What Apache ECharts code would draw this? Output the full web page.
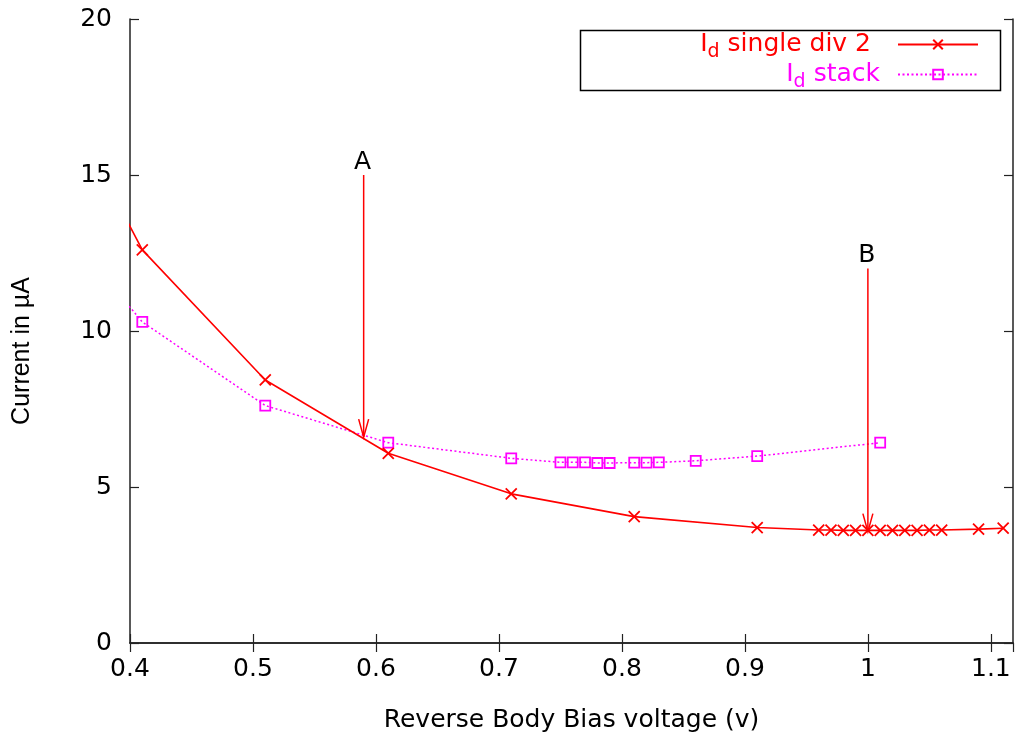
<!DOCTYPE html>
<html>
<head>
<meta charset="utf-8">
<script src="https://cdn.jsdelivr.net/npm/echarts@6/dist/echarts.min.js"></script>
<style>
  html, body { margin: 0; padding: 0; background: #fff; }
  #chart { width: 1015px; height: 736px; }
</style>
</head>
<body>
<div id="chart"></div>
<script>
// Drain current vs. reverse body bias voltage
const singleX = [0.31, 0.41, 0.51, 0.61, 0.71, 0.81, 0.91, 0.96, 0.97, 0.98, 0.99, 1.00, 1.01, 1.02, 1.03, 1.04, 1.05, 1.06, 1.09, 1.11];
const singleY = [20.1, 12.60, 8.43, 6.08, 4.78, 4.05, 3.70, 3.62, 3.62, 3.61, 3.61, 3.61, 3.61, 3.61, 3.61, 3.61, 3.62, 3.62, 3.65, 3.68];

const stackX = [0.31, 0.41, 0.51, 0.61, 0.71, 0.75, 0.76, 0.77, 0.78, 0.79, 0.81, 0.82, 0.83, 0.86, 0.91, 1.01];
const stackY = [15.0, 10.29, 7.61, 6.42, 5.92, 5.79, 5.79, 5.79, 5.77, 5.77, 5.78, 5.78, 5.79, 5.84, 5.99, 6.42];

// Annotation arrows: x position, tail (top) and tip values, label
const arrowX = [0.59, 1.00];
const arrowTop = [15, 12];
const arrowTip = [6.6, 3.57];
const arrowLabel = ['A', 'B'];

const xMin = 0.4, xMax = 1.118, xStep = 0.1;
const yMin = 0, yMax = 20, yStep = 5;

const NAME_SINGLE = 'Id single div 2';
const NAME_STACK = 'Id stack';

const RED = '#ff0000';
const MAGENTA = '#ff00ff';
const HFONT = 'DejaVu Sans';
const VFONT = 'Liberation Sans';

const zip = (xs, ys) => xs.map((x, i) => [x, ys[i]]);

function xTickLabel(v) {
  const k = Math.round(v / xStep);
  if (Math.abs(v - k * xStep) > 1e-6) return '';
  return String(Math.round(v * 10) / 10);
}

const chart = echarts.init(document.getElementById('chart'), null, { renderer: 'canvas' });

const axisLine = { show: true, lineStyle: { color: '#222', width: 1.5 } };
const axisTick = { show: true, inside: true, length: 9, lineStyle: { color: '#222', width: 1.2 } };

function legendFormatter(name) {
  return '{t|I}{s|d}{tr|' + name.slice(2) + '}';
}

// One legend per entry so each sample sits flush against the right side of the key box
function makeLegend(name, color, top, gap) {
  return {
    data: [name],
    right: 36,
    top: top,
    padding: 0,
    orient: 'vertical',
    align: 'right',
    itemWidth: 80,
    itemHeight: 12,
    selectedMode: false,
    formatter: legendFormatter,
    textStyle: {
      color: color,
      fontFamily: HFONT,
      fontSize: 25,
      rich: {
        t: { color: color, fontFamily: HFONT, fontSize: 25, lineHeight: 26 },
        tr: { color: color, fontFamily: HFONT, fontSize: 25, lineHeight: 26, padding: [0, gap, 0, 0] },
        s: { color: color, fontFamily: HFONT, fontSize: 19, lineHeight: 19, padding: [16, 0, 0, 0] }
      }
    }
  };
}

const option = {
  animation: false,
  backgroundColor: '#fff',
  grid: { left: 130, right: 2, top: 19, bottom: 93, containLabel: false, outerBoundsMode: 'none' },
  legend: [
    makeLegend(NAME_SINGLE, RED, 27, 22),
    makeLegend(NAME_STACK, MAGENTA, 57, 13)
  ],
  graphic: [{
    type: 'rect',
    left: 578, top: 28,
    shape: { width: 420, height: 60 },
    style: { fill: 'none', stroke: '#000', lineWidth: 1.5 },
    z: 10
  }],
  xAxis: [{
    type: 'value',
    position: 'bottom',
    min: xMin, max: xMax, interval: xStep,
    name: 'Reverse Body Bias voltage (v)',
    nameLocation: 'middle',
    nameGap: 65,
    nameTextStyle: { fontFamily: HFONT, fontSize: 25, color: '#000' },
    axisLine: axisLine,
    axisTick: axisTick,
    splitLine: { show: false },
    axisLabel: {
      formatter: xTickLabel,
      showMaxLabel: false,
      margin: 14,
      fontFamily: HFONT, fontSize: 25, color: '#000'
    }
  }, {
    type: 'value',
    position: 'top',
    min: xMin, max: xMax, interval: xStep,
    axisLine: axisLine,
    axisTick: axisTick,
    splitLine: { show: false },
    axisLabel: { show: false }
  }],
  yAxis: [{
    type: 'value',
    position: 'left',
    min: yMin, max: yMax, interval: yStep,
    name: 'Current in µA',
    nameLocation: 'middle',
    nameGap: 95,
    nameTextStyle: { fontFamily: VFONT, fontSize: 25, color: '#000', padding: [0, 40, 0, 0] },
    axisLine: axisLine,
    axisTick: axisTick,
    splitLine: { show: false },
    axisLabel: { margin: 18, fontFamily: HFONT, fontSize: 25, color: '#000' }
  }, {
    type: 'value',
    position: 'right',
    min: yMin, max: yMax, interval: yStep,
    axisLine: axisLine,
    axisTick: axisTick,
    splitLine: { show: false },
    axisLabel: { show: false }
  }],
  series: [{
    name: NAME_SINGLE,
    type: 'line',
    data: zip(singleX, singleY),
    clip: true,
    showAllSymbol: true,
    symbol: 'path://M0,0L10,10M0,10L10,0',
    symbolSize: 11,
    itemStyle: { color: RED, borderColor: RED, borderWidth: 1.8 },
    lineStyle: { color: RED, width: 1.6 },
    emphasis: { disabled: true },
    z: 3
  }, {
    name: NAME_STACK,
    type: 'line',
    data: zip(stackX, stackY),
    clip: true,
    showAllSymbol: true,
    symbol: 'rect',
    symbolSize: 10,
    itemStyle: { color: 'rgba(255,255,255,0)', borderColor: MAGENTA, borderWidth: 1.8 },
    lineStyle: { color: MAGENTA, width: 1.5, type: [2, 2.5] },
    emphasis: { disabled: true },
    z: 2
  }, {
    type: 'custom',
    name: 'arrows',
    data: arrowX.map((x, i) => [x, arrowTop[i], arrowTip[i], i]),
    encode: { x: 0, y: [1, 2] },
    clip: false,
    z: 4,
    renderItem: function (params, api) {
      const x = api.value(0);
      const top = api.coord([x, api.value(1)]);
      const tip = api.coord([x, api.value(2)]);
      const headLen = 18, headHalf = 5;
      const stroke = { stroke: RED, lineWidth: 1.5 };
      const label = arrowLabel[api.value(3)];
      return {
        type: 'group',
        children: [
          { type: 'line', shape: { x1: top[0], y1: top[1], x2: tip[0], y2: tip[1] }, style: stroke },
          { type: 'polyline', shape: { points: [[tip[0] - headHalf, tip[1] - headLen], [tip[0], tip[1]], [tip[0] + headHalf, tip[1] - headLen]] }, style: Object.assign({ fill: 'none' }, stroke) },
          { type: 'text', x: top[0] - 1, y: top[1] - 13, style: { text: label, fill: '#000', font: '25px "DejaVu Sans"', align: 'center', verticalAlign: 'middle' } }
        ]
      };
    }
  }]
};

chart.setOption(option);
</script>
</body>
</html>
